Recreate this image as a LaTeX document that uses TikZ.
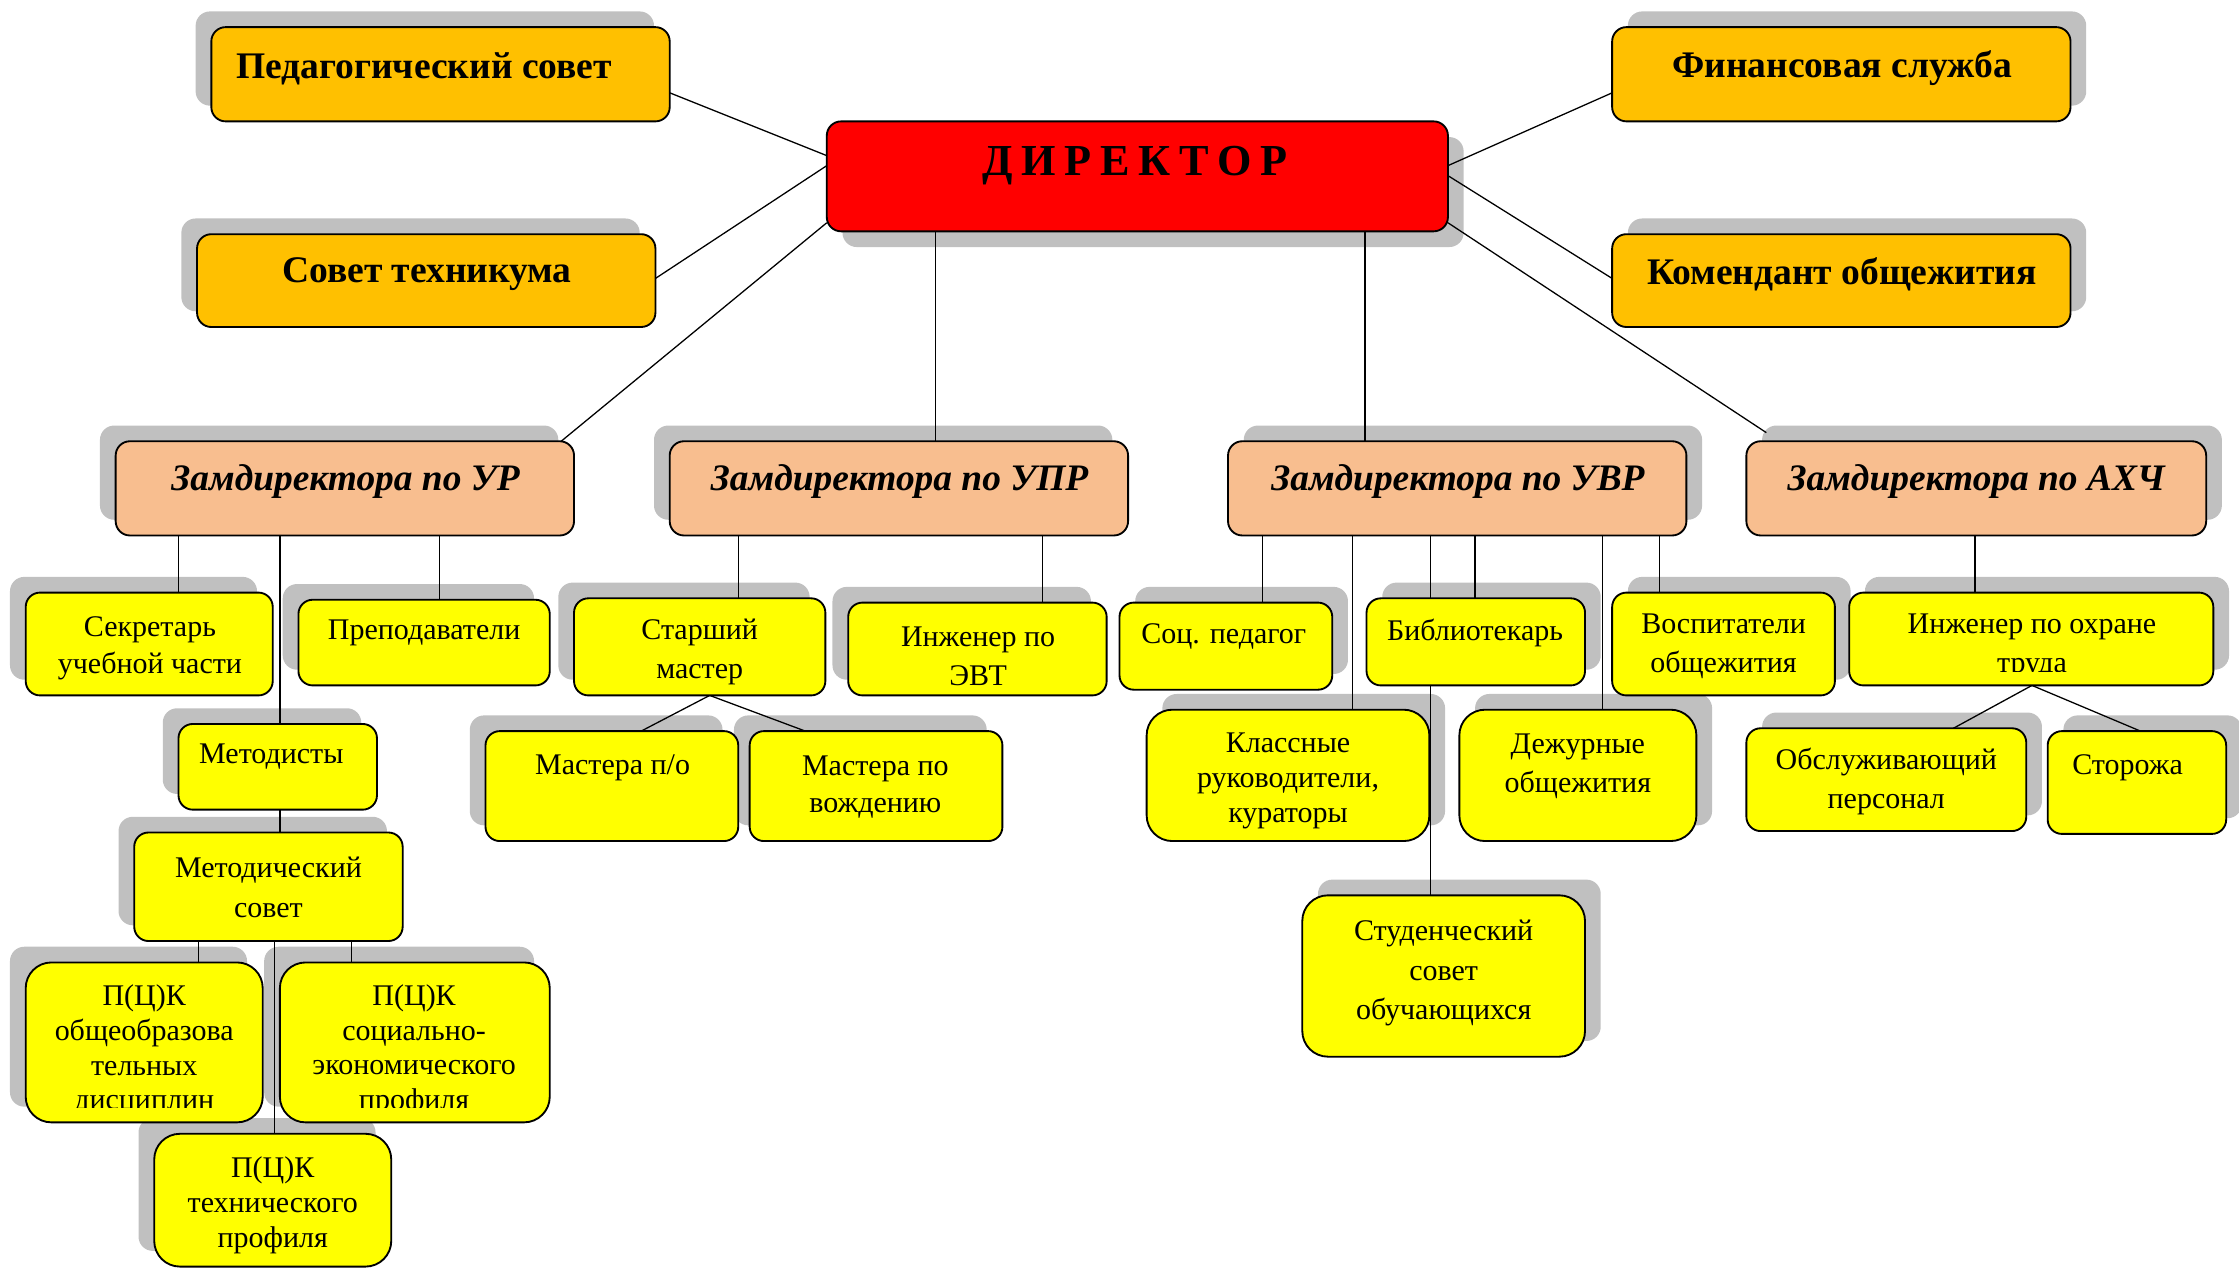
\documentclass[tikz,border=0pt]{standalone}
\usepackage{fontspec}
\setmainfont{Liberation Serif}
\usetikzlibrary{calc}
\pgfdeclarelayer{bg}
\pgfsetlayers{bg,main}
\definecolor{cTop}{HTML}{FFC000}
\definecolor{cRed}{HTML}{FF0000}
\definecolor{cZam}{HTML}{F8BE8F}
\definecolor{cYel}{HTML}{FFFF00}
\definecolor{cShd}{HTML}{C0C0C0}
\newcommand\mkbox[6]{\node[box,#2,minimum width={(#5-#3)*1pt},minimum height={(#6-#4)*1pt}] (#1) at ({(#3+#5)/2},{(#4+#6)/2}) {};}
\newcommand\shL[1]{\fill[shd] ([shift={(-11,-11)}]#1.north west) rectangle ([shift={(-11,-11)}]#1.south east);}
\newcommand\shR[1]{\fill[shd] ([shift={(11,-11)}]#1.north west) rectangle ([shift={(11,-11)}]#1.south east);}
\newcommand\shD[1]{\fill[shd] ([shift={(11,11)}]#1.north west) rectangle ([shift={(11,11)}]#1.south east);}
\begin{document}
\begin{tikzpicture}[x=1pt,y=-1pt,line join=round,
  box/.style={draw=black,line width=1.3pt,rounded corners=10pt,inner sep=0pt,outer sep=0pt},
  big/.style={rounded corners=18pt},
  top/.style={fill=cTop},
  red/.style={fill=cRed},
  zam/.style={fill=cZam},
  yel/.style={fill=cYel},
  shd/.style={fill=cShd,rounded corners=10pt},
  con/.style={draw=black,line width=0.9pt},
  tt/.style={align=center,inner sep=0pt,yshift=-2pt,font=\bfseries\fontsize{26.3}{29}\selectfont},
  tz/.style={align=center,inner sep=0pt,yshift=-2pt,font=\bfseries\itshape\fontsize{26.2}{29}\selectfont},
  t/.style={align=center,inner sep=0pt,yshift=-2pt,font=\fontsize{21}{26}\selectfont},
  t24/.style={align=center,inner sep=0pt,yshift=-2pt,font=\fontsize{21}{24.3}\selectfont},
  t27/.style={align=center,inner sep=0pt,yshift=-2pt,font=\fontsize{21}{27.5}\selectfont}]
\useasboundingbox (0,0) rectangle (1568,889);
% boxes
\mkbox{ped}{top}{148}{19}{469}{85}
\mkbox{sovet}{top}{138}{164}{459}{229}
\mkbox{fin}{top}{1129}{19}{1450}{85}
\mkbox{kom}{top}{1129}{164}{1450}{229}
\mkbox{dir}{red}{579}{85}{1014}{162}
\mkbox{ur}{zam}{81}{309}{402}{375}
\mkbox{upr}{zam}{469}{309}{790}{375}
\mkbox{uvr}{zam}{860}{309}{1181}{375}
\mkbox{ahch}{zam}{1223}{309}{1545}{375}
\mkbox{sek}{yel}{18}{415}{191}{487}
\mkbox{prep}{yel}{209}{420}{385}{480}
\mkbox{met}{yel}{125}{507}{264}{567}
\mkbox{msov}{yel}{94}{583}{282}{659}
\mkbox{pcka}{yel,big}{18}{674}{184}{786}
\mkbox{pckb}{yel,big}{196}{674}{385}{786}
\mkbox{pckc}{yel,big}{108}{794}{274}{887}
\mkbox{stm}{yel}{402}{419}{578}{487}
\mkbox{evt}{yel}{594}{422}{775}{487}
\mkbox{mpo}{yel}{340}{512}{517}{589}
\mkbox{mvo}{yel}{525}{512}{702}{589}
\mkbox{soc}{yel}{784}{422}{933}{483}
\mkbox{bib}{yel}{957}{419}{1110}{480}
\mkbox{kl}{yel,big}{803}{497}{1001}{589}
\mkbox{vos}{yel}{1129}{415}{1285}{487}
\mkbox{dej}{yel,big}{1022}{497}{1188}{589}
\mkbox{stud}{yel,big}{912}{627}{1110}{740}
\mkbox{iot}{yel}{1295}{415}{1550}{480}
\mkbox{obs}{yel}{1223}{510}{1419}{582}
\mkbox{stor}{yel}{1434}{512}{1559}{584}
% texts
\node[tt] (ped-t) at (297,46) {Педагогический совет};
\node[tt] (sovet-t) at (299,190) {Совет техникума};
\node[tt] (fin-t) at (1290,46) {Финансовая служба};
\node[tt] (kom-t) at (1290,190) {Комендант общежития};
\node[align=center,inner sep=0pt,font=\bfseries\fontsize{31}{34}\selectfont] (dir-t) at (795,116) {Д\hspace{6pt}И\hspace{6pt}Р\hspace{6pt}Е\hspace{6pt}К\hspace{6pt}Т\hspace{6pt}О\hspace{6pt}Р};
\node[tz] (ur-t) at (242,335) {Замдиректора по УР};
\node[tz] (upr-t) at (630,335) {Замдиректора по УПР};
\node[tz] (uvr-t) at (1021,335) {Замдиректора по УВР};
\node[tz] (ahch-t) at (1384,335) {Замдиректора по АХЧ};
\node[t] (sek-t) at (105,452) {Секретарь\\учебной части};
\node[t] (prep-t) at (297,441) {Преподаватели};
\node[t] (met-t) at (190,528) {Методисты};
\node[t27] (msov-t) at (188,619.5) {Методический\\совет};
\begin{scope}
\clip (18,674) rectangle (184,775.5);
\node[t24] (pcka-t) at (101,733.5) {П(Ц)К\\общеобразова\\тельных\\дисциплин};
\end{scope}
\begin{scope}
\clip (196,674) rectangle (385,775.5);
\node[t24] (pckb-t) at (290,733.5) {П(Ц)К\\социально-\\экономического\\профиля};
\end{scope}
\node[t24] (pckc-t) at (191,842) {П(Ц)К\\технического\\профиля};
\node[t27] (stm-t) at (490,454.5) {Старший\\мастер};
\node[t27] (evt-t) at (685,457.5) {Инженер по\\ЭВТ};
\node[t] (mpo-t) at (429,536) {Мастера п/о};
\node[t] (mvo-t) at (613,549) {Мастера по\\вождению};
\node[t] (soc-t) at (857,444) {Соц. педагог};
\node[t] (bib-t) at (1033,441) {Библиотекарь};
\node[t24] (kl-t) at (902,545) {Классные\\руководители,\\кураторы};
\node[t27] (vos-t) at (1207,450.5) {Воспитатели\\общежития};
\node[t27] (dej-t) at (1105,534.5) {Дежурные\\общежития};
\node[t27] (stud-t) at (1011,679.5) {Студенческий\\совет\\обучающихся};
\begin{scope}
\clip (1295,415) rectangle (1550,470.5);
\node[t27] (iot-t) at (1423,450.5) {Инженер по охране\\труда};
\end{scope}
\node[t27] (obs-t) at (1321,545.5) {Обслуживающий\\персонал};
\node[t] (stor-t) at (1490,536) {Сторожа};
\begin{pgfonlayer}{bg}
\shL{ped}\shL{sovet}\shR{fin}\shR{kom}\shD{dir}
\shL{ur}\shL{upr}\shR{uvr}\shR{ahch}
\shL{sek}\shL{prep}\shL{met}\shL{msov}\shL{pcka}\shL{pckb}\shL{pckc}
\shL{stm}\shL{evt}\shL{mpo}\shL{mvo}
\shR{soc}\shR{bib}\shR{kl}\shR{vos}\shR{dej}\shR{stud}\shR{iot}\shR{obs}\shR{stor}
% connectors from director
\draw[con] ([shift={(0,46)}]ped.north east) -- ([shift={(0,24)}]dir.north west);
\draw[con] ([shift={(0,31)}]sovet.north east) -- ([shift={(0,31)}]dir.north west);
\draw[con] ([shift={(-9,0)}]ur.north east) -- ([shift={(0,71)}]dir.north west);
\draw[con] (dir.south -| 655,0) -- (upr.north -| 655,0);
\draw[con] (dir.south -| 956,0) -- (uvr.north -| 956,0);
\draw[con] ([shift={(0,31)}]dir.north east) -- ([shift={(0,46)}]fin.north west);
\draw[con] ([shift={(0,38)}]dir.north east) -- ([shift={(0,31)}]kom.north west);
\draw[con] ([shift={(0,71)}]dir.north east) -- ([shift={(14,-6)}]ahch.north west);
% UR
\draw[con] (ur.south -| 125,0) -- (sek.north -| 125,0);
\draw[con] (ur.south -| 308,0) -- (prep.north -| 308,0);
\draw[con] (ur.south -| 196,0) -- (met.north -| 196,0);
\draw[con] (met.south -| 196,0) -- (msov.north -| 196,0);
\draw[con] (msov.south -| 139,0) -- (pcka.north -| 139,0);
\draw[con] (msov.south -| 246,0) -- (pckb.north -| 246,0);
\draw[con] (msov.south -| 192,0) -- (pckc.north -| 192,0);
% UPR
\draw[con] (upr.south -| 517,0) -- (stm.north -| 517,0);
\draw[con] (upr.south -| 730,0) -- (evt.north -| 730,0);
\draw[con] (stm.south -| 497,0) -- (mpo.north -| 449,0);
\draw[con] (stm.south -| 497,0) -- (mvo.north -| 564,0);
% UVR
\draw[con] (uvr.south -| 884,0) -- (soc.north -| 884,0);
\draw[con] (uvr.south -| 947,0) -- (kl.north -| 947,0);
\draw[con] (uvr.south -| 1002,0) -- (bib.north -| 1002,0);
\draw[con] (uvr.south -| 1033,0) -- (bib.north -| 1033,0);
\draw[con] (uvr.south -| 1122,0) -- (dej.north -| 1122,0);
\draw[con] (uvr.south -| 1162,0) -- (vos.north -| 1162,0);
\draw[con] (bib.south -| 1002,0) -- (stud.north -| 1002,0);
% AHCH
\draw[con] (ahch.south -| 1383,0) -- (iot.north -| 1383,0);
\draw[con] (iot.south -| 1423,0) -- (obs.north -| 1368,0);
\draw[con] (iot.south -| 1423,0) -- (stor.north -| 1499,0);
\end{pgfonlayer}
\end{tikzpicture}
\end{document}
